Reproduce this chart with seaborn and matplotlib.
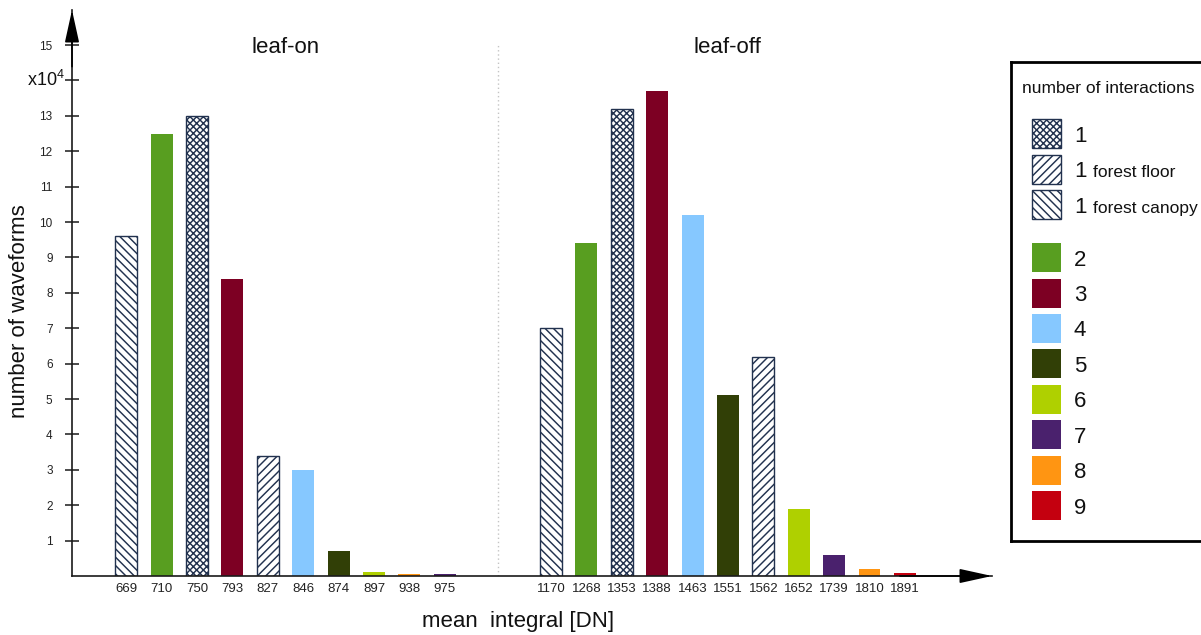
import matplotlib
matplotlib.use("Agg")
import matplotlib.pyplot as plt
import pandas as pd
import seaborn as sns
from matplotlib.patches import Rectangle

# Waveform counts (in units of 10^4) per mean-integral class
leaf_on_integral = ["669", "710", "750", "793", "827", "846", "874", "897", "938", "975"]
leaf_on_count = [9.6, 12.5, 13.0, 8.4, 3.4, 3.0, 0.7, 0.1, 0.06, 0.06]
leaf_on_kind = ["1 forest canopy", "2", "1", "3", "1 forest floor", "4", "5", "6", "8", "7"]

leaf_off_integral = ["1170", "1268", "1353", "1388", "1463", "1551", "1562",
                     "1652", "1739", "1810", "1891"]
leaf_off_count = [7.0, 9.4, 13.2, 13.7, 10.2, 5.1, 6.2, 1.9, 0.6, 0.2, 0.08]
leaf_off_kind = ["1 forest canopy", "2", "1", "3", "4", "5", "1 forest floor",
                 "6", "7", "8", "9"]

kinds = ["1", "1 forest floor", "1 forest canopy", "2", "3", "4", "5", "6", "7", "8", "9"]
kind_colors = ["white", "white", "white", "#589E20", "#7D0023", "#86C8FF",
               "#313F06", "#AFD000", "#4A216D", "#FF9512", "#C4000F"]
kind_hatches = {"1": "xxxxx", "1 forest floor": "////", "1 forest canopy": "\\\\\\\\"}
hatch_edge = "#22324F"

gap_slots = [" ", "  "]
y_ticks = list(range(1, 16))

sns.set_theme(style="white")
plt.rcParams["font.family"] = ["Liberation Sans", "DejaVu Sans"]
plt.rcParams["mathtext.default"] = "regular"
plt.rcParams["hatch.linewidth"] = 1.05

df = pd.DataFrame({
    "integral": leaf_on_integral + leaf_off_integral,
    "count": leaf_on_count + leaf_off_count,
    "kind": leaf_on_kind + leaf_off_kind,
})
order = leaf_on_integral + gap_slots + leaf_off_integral
palette = dict(zip(kinds, kind_colors))

fig = plt.figure(figsize=(12.01, 6.35), dpi=100)
W, H = 1201, 635
ax = fig.add_axes([72 / W, 59 / H, 920 / W, 566 / H])

sns.barplot(data=df, x="integral", y="count", hue="kind", order=order,
            hue_order=kinds, palette=palette, dodge=False, width=0.62,
            saturation=1, errorbar=None, legend=False, linewidth=0, ax=ax)

for level, cont in zip(kinds, ax.containers):
    if level in kind_hatches:
        for bar in cont:
            bar.set_hatch(kind_hatches[level])
            bar.set_edgecolor(hatch_edge)
            bar.set_linewidth(1.0)

ax.set_xlim(-1.53, 24.46)
ax.set_ylim(0, 15.99)
ax.set_xlabel("")
ax.set_ylabel("")

# axes: left and bottom spines with arrow heads
for side in ["top", "right"]:
    ax.spines[side].set_visible(False)
for side in ["left", "bottom"]:
    ax.spines[side].set_color("#1a1a1a")
    ax.spines[side].set_linewidth(1.2)
arrow = dict(arrowstyle="-|>,head_length=1.0,head_width=0.22", mutation_scale=20,
             color="black", lw=1.2, shrinkA=0, shrinkB=0)
ax.annotate("", xy=(0, 1), xytext=(0, 0.9), xycoords="axes fraction", arrowprops=arrow)
ax.annotate("", xy=(1, 0), xytext=(0.9, 0), xycoords="axes fraction", arrowprops=arrow)

ax.set_yticks(y_ticks)
ax.set_yticklabels(["" if t == 14 else str(t) for t in y_ticks])
ax.tick_params(axis="y", left=True, direction="inout", length=10, width=1.1,
               color="#1a1a1a", pad=9, labelsize=8.5, labelcolor="#222222")
ax.tick_params(axis="x", bottom=False, length=0, pad=5, labelsize=9.5,
               labelcolor="#222222")
ax.text(-0.0075, 14, "x10$^4$", transform=ax.get_yaxis_transform(),
        ha="right", va="center", fontsize=13, color="#111111")

# separator between the two acquisitions
ax.plot([10.5, 10.5], [0, 15], color="#c4c4c4", lw=1.0, ls=(0, (1, 2)), zorder=0)
ax.text(4.5, 14.94, "leaf-on", ha="center", va="center", fontsize=16, color="#111111")
ax.text(17, 14.94, "leaf-off", ha="center", va="center", fontsize=16, color="#111111")

fig.text(20 / W, 1 - 311 / H, "number of waveforms", rotation=90,
         ha="center", va="center", fontsize=16, color="#111111")
fig.text(518 / W, 1 - 621 / H, "mean  integral [DN]", ha="center", va="center",
         fontsize=16, color="#111111")

# legend panel
lax = fig.add_axes([1011 / W, (H - 541) / H, 210 / W, 479 / H])
lax.set_xlim(1011, 1221)
lax.set_ylim(541, 62)
lax.set_xticks([])
lax.set_yticks([])
lax.patch.set_alpha(0)
for side, sp in lax.spines.items():
    sp.set_linewidth(2)
    sp.set_color("black")
    sp.set_visible(side != "right")

lax.text(1022, 88, "number of interactions", fontsize=12.5, va="center", color="#111111")
row_y = [133.5, 169, 204.5, 257.5, 293, 328, 363.5, 399, 434.5, 470, 505.5]
for level, color, yc in zip(kinds, kind_colors, row_y):
    hatch = kind_hatches.get(level)
    lax.add_patch(Rectangle((1032, yc - 14.5), 29, 29, facecolor=color,
                            hatch=hatch, edgecolor=hatch_edge if hatch else color,
                            linewidth=1.0 if hatch else 0))
    main, _, sub = level.partition(" ")
    lax.text(1074, yc + 8, main, fontsize=16, va="baseline", color="#111111")
    if sub:
        lax.text(1093, yc + 8, sub, fontsize=12.5, va="baseline", color="#111111")

fig.savefig("out.png", dpi=100)
